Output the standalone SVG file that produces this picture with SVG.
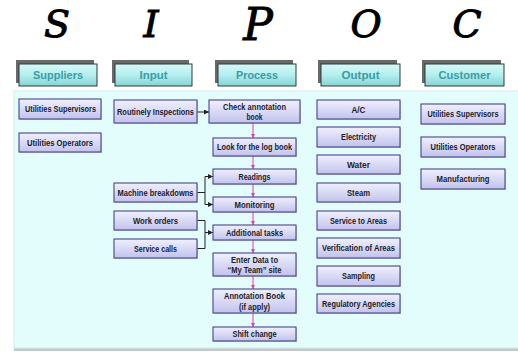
<svg xmlns="http://www.w3.org/2000/svg" width="518" height="352" viewBox="0 0 518 352">
<defs>
  <linearGradient id="boxg" x1="0" y1="0" x2="0" y2="1">
    <stop offset="0" stop-color="#f0f0ff"/>
    <stop offset="1" stop-color="#c2c2ec"/>
  </linearGradient>
  <linearGradient id="hdrg" x1="0" y1="0" x2="0" y2="1">
    <stop offset="0" stop-color="#d6fafa"/>
    <stop offset="0.5" stop-color="#b4eeee"/>
    <stop offset="1" stop-color="#86d4d4"/>
  </linearGradient>
  <marker id="ab" viewBox="0 0 6 6" refX="6" refY="3" markerWidth="5" markerHeight="5" orient="auto" markerUnits="userSpaceOnUse">
    <path d="M0,0 L6,3 L0,6 z" fill="#222"/>
  </marker>
  <marker id="ap" viewBox="0 0 6 6" refX="6" refY="3" markerWidth="4.5" markerHeight="4.5" orient="auto" markerUnits="userSpaceOnUse">
    <path d="M0,0 L6,3 L0,6 z" fill="#e03cb4"/>
  </marker>
</defs>
<style>
  .letter { font-family: "DejaVu Serif", "Liberation Serif", serif; font-style: italic; font-weight: normal; font-size: 38px; fill: #000; stroke: #000; stroke-width: 1; text-anchor: middle; }
  .hdr rect.b { fill: url(#hdrg); stroke: #2e3a3a; stroke-width: 1; }
  .hdr rect.s { fill: #444; opacity: 0.8; }
  .hdr text { font-family: "Liberation Sans", Arial, sans-serif; font-size: 11px; fill: #3a9ca4; text-anchor: middle; font-weight: bold; }
  .box rect.b { fill: url(#boxg); stroke: #45458c; stroke-width: 1.1; }
  .box rect.s { fill: #9a9ab0; opacity: 0.5; }
  .box text { font-family: "Liberation Sans", Arial, sans-serif; font-size: 8.2px; font-weight: bold; fill: #1c1c2a; text-anchor: middle; }
  .conn path.k { stroke: #222; stroke-width: 1; fill: none; }
  .conn path.p { stroke: #e03cb4; stroke-width: 1; fill: none; marker-end: url(#ap); }
</style>

<rect x="0" y="0" width="518" height="352" fill="#ffffff"/>

<!-- SIPOC letters -->
<g id="letters">
  <text class="letter" x="57" y="37">S</text>
  <text class="letter" x="151" y="37">I</text>
  <text class="letter" x="258" y="40" style="font-size:44px">P</text>
  <text class="letter" x="366" y="37">O</text>
  <text class="letter" x="467" y="37">C</text>
</g>

<!-- panel -->
<g id="panel">
  <rect x="14" y="93" width="506" height="258" fill="#c4c8c8"/>
  <rect x="14" y="91" width="506" height="257" fill="#e3fcfc" stroke="#d4ecec" stroke-width="1"/>
</g>

<!-- headers -->
<g id="h-suppliers" class="hdr"><rect class="s" x="16" y="60" width="78" height="23"/><rect class="b" x="19" y="64" width="78" height="22"/><text x="58" y="79" textLength="50" lengthAdjust="spacingAndGlyphs">Suppliers</text></g>
<g id="h-input" class="hdr"><rect class="s" x="112" y="60" width="77" height="23"/><rect class="b" x="115" y="64" width="77" height="22"/><text x="153.5" y="79" textLength="28" lengthAdjust="spacingAndGlyphs">Input</text></g>
<g id="h-process" class="hdr"><rect class="s" x="215" y="60" width="78" height="23"/><rect class="b" x="218" y="64" width="78" height="22"/><text x="257" y="79" textLength="42" lengthAdjust="spacingAndGlyphs">Process</text></g>
<g id="h-output" class="hdr"><rect class="s" x="318" y="60" width="79" height="23"/><rect class="b" x="321" y="64" width="79" height="22"/><text x="360.5" y="79" textLength="38" lengthAdjust="spacingAndGlyphs">Output</text></g>
<g id="h-customer" class="hdr"><rect class="s" x="422" y="60" width="79" height="23"/><rect class="b" x="425" y="64" width="79" height="22"/><text x="464.5" y="79" textLength="52" lengthAdjust="spacingAndGlyphs">Customer</text></g>

<!-- connectors -->
<g id="connectors" class="conn">
  <path class="k" d="M197,112 L209,112" marker-end="url(#ab)"/>
  <path class="k" d="M197,192.5 L205,192.5 M205,176.5 L205,204.5"/>
  <path class="k" d="M205,176.5 L213,176.5" marker-end="url(#ab)"/>
  <path class="k" d="M205,204.5 L213,204.5" marker-end="url(#ab)"/>
  <path class="k" d="M197,220.5 L205,220.5 L205,248.5 L197,248.5"/>
  <path class="k" d="M205,232.5 L213,232.5" marker-end="url(#ab)"/>
  <path class="p" d="M253,123 L253,138"/>
  <path class="p" d="M253,156 L253,169"/>
  <path class="p" d="M253,184 L253,197"/>
  <path class="p" d="M253,212 L253,225"/>
  <path class="p" d="M253,240 L253,253"/>
  <path class="p" d="M253,276 L253,289"/>
  <path class="p" d="M253,313 L253,327"/>
</g>

<!-- suppliers -->
<g id="s-sup" class="box"><rect class="s" x="20" y="100" width="82" height="20"/><rect class="b" x="19" y="99" width="82" height="20"/><text x="60.5" y="112" textLength="71" lengthAdjust="spacingAndGlyphs">Utilities Supervisors</text></g>
<g id="s-ops" class="box"><rect class="s" x="20" y="134" width="82" height="19"/><rect class="b" x="19" y="133" width="82" height="19"/><text x="60" y="145.5" textLength="66" lengthAdjust="spacingAndGlyphs">Utilities Operators</text></g>

<!-- inputs -->
<g id="i-routine" class="box"><rect class="s" x="115" y="101" width="83" height="23"/><rect class="b" x="114" y="100" width="83" height="23"/><text x="155.5" y="114.5" textLength="77" lengthAdjust="spacingAndGlyphs">Routinely Inspections</text></g>
<g id="i-machine" class="box"><rect class="s" x="115" y="184" width="83" height="19"/><rect class="b" x="114" y="183" width="83" height="19"/><text x="155.5" y="195.5" textLength="76" lengthAdjust="spacingAndGlyphs">Machine breakdowns</text></g>
<g id="i-work" class="box"><rect class="s" x="115" y="212" width="83" height="19"/><rect class="b" x="114" y="211" width="83" height="19"/><text x="155.5" y="223.5" textLength="45" lengthAdjust="spacingAndGlyphs">Work orders</text></g>
<g id="i-service" class="box"><rect class="s" x="115" y="240" width="83" height="19"/><rect class="b" x="114" y="239" width="83" height="19"/><text x="155.5" y="251.5" textLength="43" lengthAdjust="spacingAndGlyphs">Service calls</text></g>

<!-- process -->
<g id="p-check" class="box"><rect class="s" x="210" y="101" width="91" height="23"/><rect class="b" x="209" y="100" width="91" height="23"/><text x="254.5" y="109.5" textLength="63" lengthAdjust="spacingAndGlyphs">Check annotation</text><text x="254.5" y="119.5" textLength="16" lengthAdjust="spacingAndGlyphs">book</text></g>
<g id="p-look" class="box"><rect class="s" x="214" y="139" width="83" height="18"/><rect class="b" x="213" y="138" width="83" height="18"/><text x="254.5" y="150" textLength="75" lengthAdjust="spacingAndGlyphs">Look for the log book</text></g>
<g id="p-read" class="box"><rect class="s" x="214" y="170" width="83" height="15"/><rect class="b" x="213" y="169" width="83" height="15"/><text x="254.5" y="179.5" textLength="32" lengthAdjust="spacingAndGlyphs">Readings</text></g>
<g id="p-mon" class="box"><rect class="s" x="214" y="198" width="83" height="15"/><rect class="b" x="213" y="197" width="83" height="15"/><text x="254.5" y="207.5" textLength="40" lengthAdjust="spacingAndGlyphs">Monitoring</text></g>
<g id="p-add" class="box"><rect class="s" x="214" y="226" width="83" height="15"/><rect class="b" x="213" y="225" width="83" height="15"/><text x="254.5" y="235.5" textLength="57" lengthAdjust="spacingAndGlyphs">Additional  tasks</text></g>
<g id="p-enter" class="box"><rect class="s" x="214" y="254" width="83" height="23"/><rect class="b" x="213" y="253" width="83" height="23"/><text x="254.5" y="262.5" textLength="47" lengthAdjust="spacingAndGlyphs">Enter Data to</text><text x="254.5" y="273" textLength="54" lengthAdjust="spacingAndGlyphs">“My Team” site</text></g>
<g id="p-annot" class="box"><rect class="s" x="214" y="290" width="83" height="24"/><rect class="b" x="213" y="289" width="83" height="24"/><text x="254.5" y="298.5" textLength="61" lengthAdjust="spacingAndGlyphs">Annotation Book</text><text x="254.5" y="309.5" textLength="31" lengthAdjust="spacingAndGlyphs">(if apply)</text></g>
<g id="p-shift" class="box"><rect class="s" x="214" y="328" width="83" height="14"/><rect class="b" x="213" y="327" width="83" height="14"/><text x="254.5" y="337" textLength="44" lengthAdjust="spacingAndGlyphs">Shift change</text></g>

<!-- outputs -->
<g id="o-ac" class="box"><rect class="s" x="318" y="101" width="83" height="19"/><rect class="b" x="317" y="100" width="83" height="19"/><text x="358.5" y="112.5" textLength="14" lengthAdjust="spacingAndGlyphs">A/C</text></g>
<g id="o-elec" class="box"><rect class="s" x="318" y="128" width="83" height="20"/><rect class="b" x="317" y="127" width="83" height="20"/><text x="358.5" y="140" textLength="35" lengthAdjust="spacingAndGlyphs">Electricity</text></g>
<g id="o-water" class="box"><rect class="s" x="318" y="156" width="83" height="19"/><rect class="b" x="317" y="155" width="83" height="19"/><text x="358.5" y="167.5" textLength="23" lengthAdjust="spacingAndGlyphs">Water</text></g>
<g id="o-steam" class="box"><rect class="s" x="318" y="184" width="83" height="19"/><rect class="b" x="317" y="183" width="83" height="19"/><text x="358.5" y="195.5" textLength="23" lengthAdjust="spacingAndGlyphs">Steam</text></g>
<g id="o-service" class="box"><rect class="s" x="318" y="212" width="83" height="19"/><rect class="b" x="317" y="211" width="83" height="19"/><text x="358.5" y="223.5" textLength="57" lengthAdjust="spacingAndGlyphs">Service to Areas</text></g>
<g id="o-verif" class="box"><rect class="s" x="318" y="239" width="83" height="20"/><rect class="b" x="317" y="238" width="83" height="20"/><text x="358.5" y="251" textLength="73" lengthAdjust="spacingAndGlyphs">Verification of Areas</text></g>
<g id="o-samp" class="box"><rect class="s" x="318" y="267" width="83" height="20"/><rect class="b" x="317" y="266" width="83" height="20"/><text x="358.5" y="279" textLength="33" lengthAdjust="spacingAndGlyphs">Sampling</text></g>
<g id="o-reg" class="box"><rect class="s" x="318" y="295" width="83" height="19"/><rect class="b" x="317" y="294" width="83" height="19"/><text x="358.5" y="306.5" textLength="73" lengthAdjust="spacingAndGlyphs">Regulatory Agencies</text></g>

<!-- customers -->
<g id="c-sup" class="box"><rect class="s" x="422" y="105" width="84" height="20"/><rect class="b" x="421" y="104" width="84" height="20"/><text x="463" y="117" textLength="71" lengthAdjust="spacingAndGlyphs">Utilities Supervisors</text></g>
<g id="c-ops" class="box"><rect class="s" x="422" y="138" width="84" height="20"/><rect class="b" x="421" y="137" width="84" height="20"/><text x="463" y="150" textLength="65" lengthAdjust="spacingAndGlyphs">Utilities Operators</text></g>
<g id="c-man" class="box"><rect class="s" x="422" y="170" width="84" height="20"/><rect class="b" x="421" y="169" width="84" height="20"/><text x="463" y="182" textLength="53" lengthAdjust="spacingAndGlyphs">Manufacturing</text></g>
</svg>
